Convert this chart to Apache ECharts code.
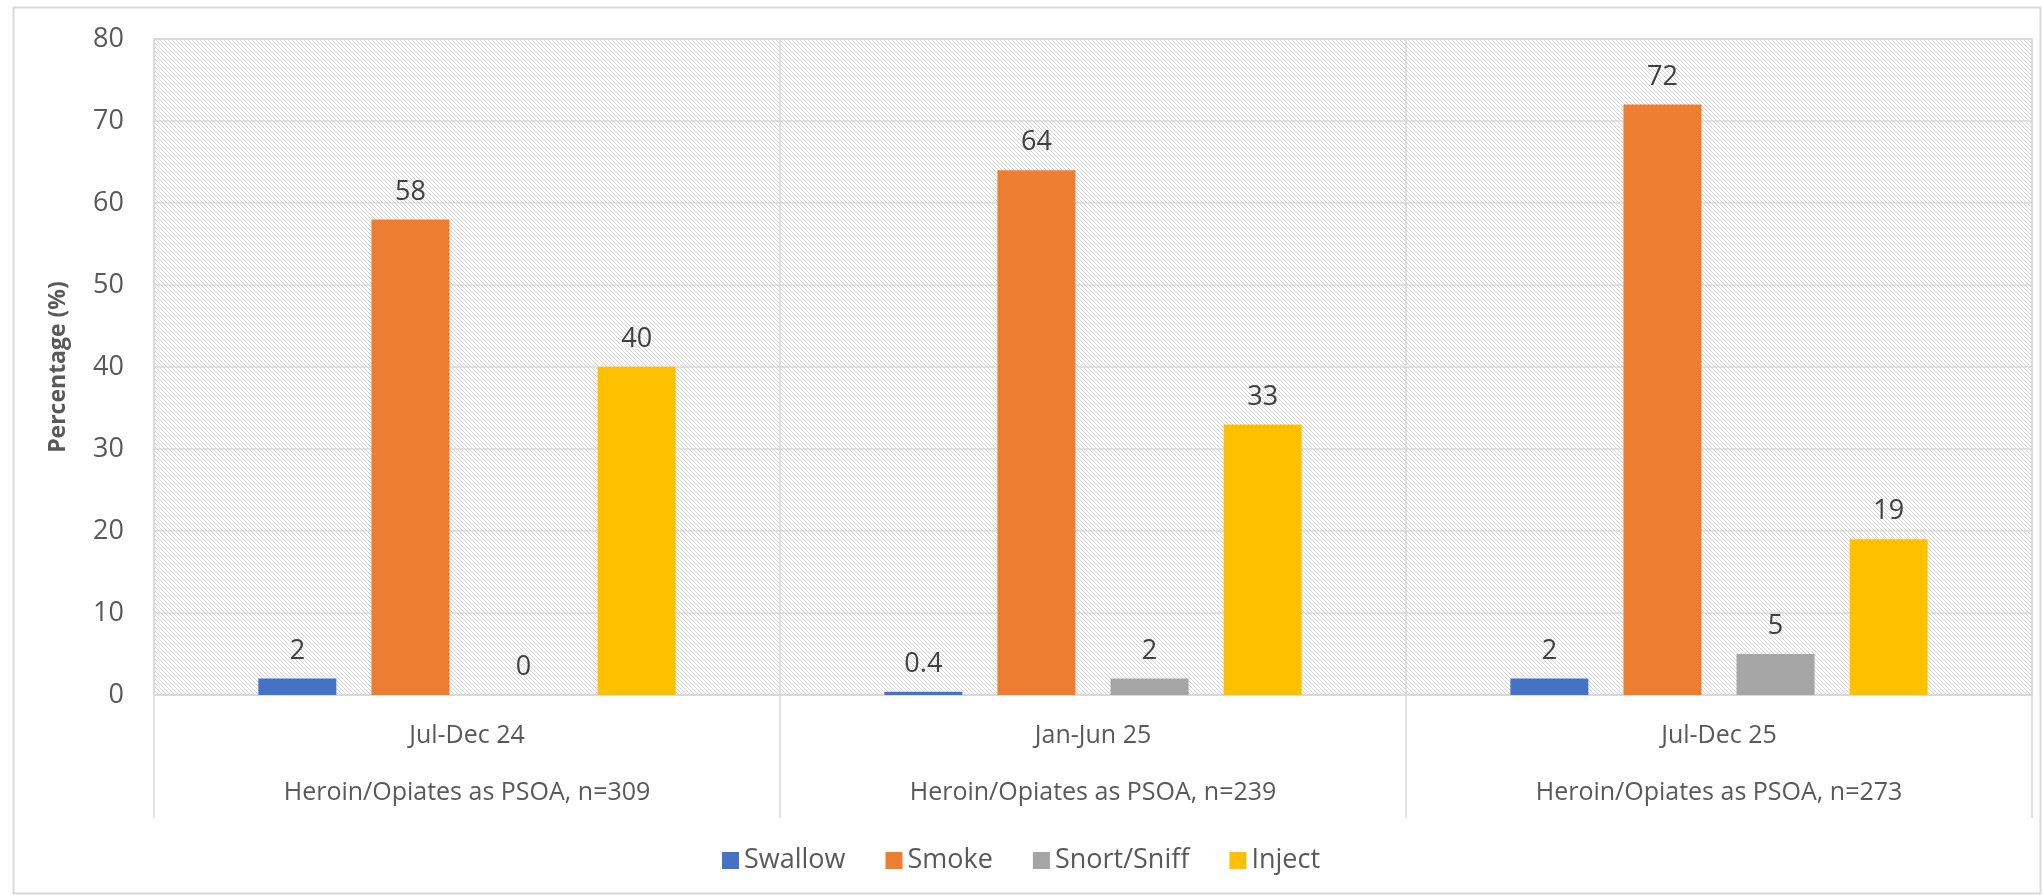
<!DOCTYPE html>
<html>
<head>
<meta charset="utf-8">
<script src="https://cdn.jsdelivr.net/npm/echarts@6/dist/echarts.min.js"></script>
<style>
html,body{margin:0;padding:0;background:#fff;}
#chart{width:2042px;height:895px;}
</style>
</head>
<body>
<div id="chart"></div>
<script>
const periods = ['Jul-Dec 24', 'Jan-Jun 25', 'Jul-Dec 25'];
const groups = ['Heroin/Opiates as PSOA, n=309', 'Heroin/Opiates as PSOA, n=239', 'Heroin/Opiates as PSOA, n=273'];
const swallow = [2, 0.4, 2];
const smoke = [58, 64, 72];
const snortSniff = [0, 2, 5];
const inject = [40, 33, 19];
const yTicks = [0, 10, 20, 30, 40, 50, 60, 70, 80];

const seriesDefs = [
  {name: 'Swallow', data: swallow, color: '#4472C4'},
  {name: 'Smoke', data: smoke, color: '#ED7D31'},
  {name: 'Snort/Sniff', data: snortSniff, color: '#A5A5A5'},
  {name: 'Inject', data: inject, color: '#FFC000'}
];

const pc = document.createElement('canvas');
pc.width = 4; pc.height = 4;
const pctx = pc.getContext('2d');
pctx.fillStyle = '#d4d4d4';
for (let i = 0; i < 4; i++) pctx.fillRect(i, i, 1, 1);

const FONT = 'Open Sans';
const TXT = '#595959';

const chart = echarts.init(document.getElementById('chart'), null, {renderer: 'canvas'});
chart.setOption({
  animation: false,
  backgroundColor: '#ffffff',
  textStyle: {fontFamily: FONT},
  graphic: [{
    type: 'rect', left: 11, top: 5, z: -10,
    shape: {width: 2027, height: 886},
    style: {fill: 'none', stroke: '#d9d9d9', lineWidth: 2}
  }],
  grid: {
    left: 154, right: 10, top: 39, bottom: 200,
    show: true,
    backgroundColor: {image: pc, repeat: 'repeat'},
    borderColor: '#d9d9d9', borderWidth: 1.5
  },
  legend: {
    bottom: 16, left: 'center',
    itemWidth: 17, itemHeight: 17, itemGap: 40,
    icon: 'rect',
    textStyle: {fontSize: 27, color: TXT, fontFamily: FONT},
    data: seriesDefs.map(s => s.name)
  },
  xAxis: {
    type: 'category',
    data: periods.map((p, i) => p + '\n' + groups[i]),
    axisLine: {show: true, lineStyle: {color: '#d9d9d9', width: 1.5}},
    axisTick: {show: true, length: 123, lineStyle: {color: '#d9d9d9', width: 1.5}},
    splitLine: {show: true, lineStyle: {color: '#d9d9d9', width: 1.5}},
    axisLabel: {
      margin: 12,
      formatter: function (v) {
        const parts = v.split('\n');
        return '{a|' + parts[0] + '}\n{b|' + parts[1] + '}';
      },
      rich: {
        a: {fontSize: 25, lineHeight: 57, color: TXT, fontFamily: FONT},
        b: {fontSize: 25, lineHeight: 57, color: TXT, fontFamily: FONT}
      }
    }
  },
  yAxis: {
    type: 'value', min: 0, max: 80, interval: 10,
    name: 'Percentage (%)', nameLocation: 'middle', nameGap: 84,
    nameTextStyle: {fontSize: 23, fontWeight: 'bold', color: TXT, fontFamily: FONT},
    axisLine: {show: false}, axisTick: {show: false},
    splitLine: {show: true, lineStyle: {color: '#d9d9d9', width: 1.5}},
    axisLabel: {
      margin: 30, fontSize: 27, color: TXT, fontFamily: FONT,
      formatter: function (v) { return yTicks.indexOf(v) >= 0 ? String(v) : ''; }
    }
  },
  series: seriesDefs.map(s => ({
    name: s.name, type: 'bar', data: s.data,
    barWidth: 78, barGap: '45%',
    itemStyle: {color: s.color},
    label: {show: true, position: 'top', distance: 14, fontSize: 27, color: '#404040', fontFamily: FONT}
  }))
});
</script>
</body>
</html>
